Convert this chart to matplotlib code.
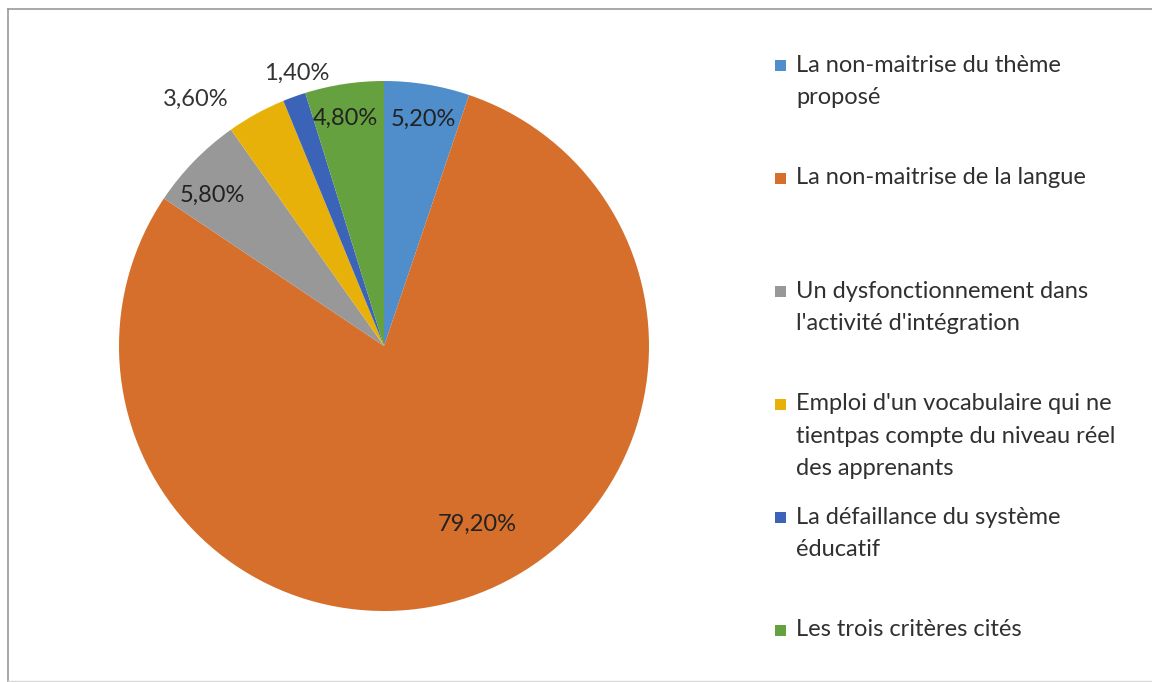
import matplotlib
matplotlib.use("Agg")
import matplotlib.pyplot as plt
from matplotlib.patches import Rectangle
from matplotlib.lines import Line2D
import numpy as np

categories = [
    "La non-maitrise du thème\nproposé",
    "La non-maitrise de la langue",
    "Un dysfonctionnement dans\nl'activité d'intégration",
    "Emploi d'un vocabulaire qui ne\ntientpas compte du niveau réel\ndes apprenants",
    "La défaillance du système\néducatif",
    "Les trois critères cités",
]
values = [5.2, 79.2, 5.8, 3.6, 1.4, 4.8]
value_labels = ["5,20%", "79,20%", "5,80%", "3,60%", "1,40%", "4,80%"]
colors = ["#4F8DCB", "#D66F2B", "#989898", "#E7B10A", "#3B63B8", "#66A13F"]

# label placement style: (radius factor, angle offset in degrees)
label_style = [(0.87, -0.5), (0.76, 9.0), (0.86, 3.0), (1.17, 8.5), (1.08, -2.0), (0.87, 1.0)]

W, H = 1152, 682
fig = plt.figure(figsize=(W / 100, H / 100), dpi=100)
font = "Lato"
fs = 17

# border
fig.add_artist(Line2D([7.5 / W, 7.5 / W], [0, 1 - 9 / H], transform=fig.transFigure, color="#9a9a9a", lw=1.2))
fig.add_artist(Line2D([7.5 / W, 1], [1 - 9 / H, 1 - 9 / H], transform=fig.transFigure, color="#9a9a9a", lw=1.2))
fig.add_artist(Line2D([7.5 / W, 1], [1.0 / H, 1.0 / H], transform=fig.transFigure, color="#d8d8d8", lw=1.0))

cx, cy, r = 384, 346, 265
ax = fig.add_axes([(cx - r) / W, (H - cy - r) / H, 2 * r / W, 2 * r / H])
wedges, _ = ax.pie(values, colors=colors, startangle=90, counterclock=False, radius=1,
                   wedgeprops=dict(linewidth=0))
ax.set_xlim(-1, 1)
ax.set_ylim(-1, 1)
ax.set_aspect("equal")
ax.axis("off")

for w, lab, (rf, dth) in zip(wedges, value_labels, label_style):
    mid = np.deg2rad((w.theta1 + w.theta2) / 2 + dth)
    inside = rf < 1
    ax.text(rf * np.cos(mid), rf * np.sin(mid), lab, ha="center", va="center",
            fontsize=fs, family=font, color="#222222" if inside else "#333333")

# legend
y0 = 65
step = 113
line_h = 32.3
for i, (cat, col) in enumerate(zip(categories, colors)):
    ytop = y0 + i * step
    fig.add_artist(Rectangle((775 / W, 1 - (ytop + 6) / H), 11 / W, 11 / H,
                             transform=fig.transFigure, facecolor=col, edgecolor="none"))
    for j, line in enumerate(cat.split("\n")):
        fig.text(796 / W, 1 - (ytop + j * line_h) / H, line, ha="left", va="center",
                 fontsize=fs, family=font, color="#303030")

fig.savefig("out.png", dpi=100, facecolor="white")
